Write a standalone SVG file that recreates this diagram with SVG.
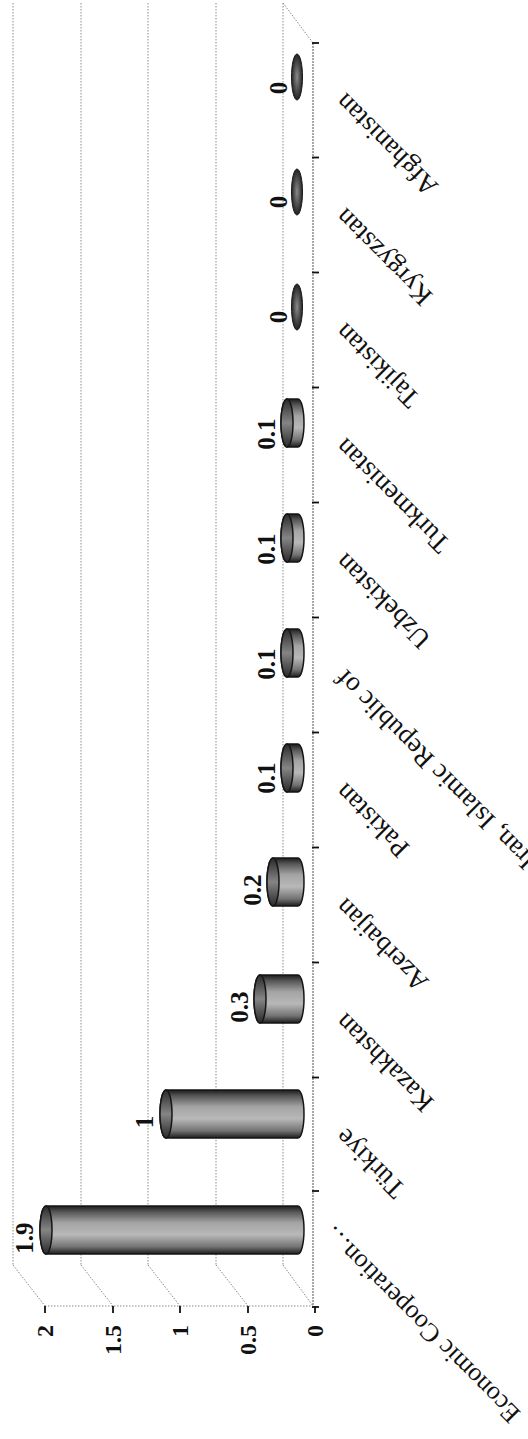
<svg xmlns="http://www.w3.org/2000/svg" width="528" height="1439" viewBox="0 0 528 1439">
<style>
.grid{stroke:#8a8a8a;stroke-width:1;stroke-dasharray:1.5 1.5;fill:none}
.axis{stroke:#7a7a7a;stroke-width:1.3;stroke-dasharray:2 1;fill:none}
.tick{stroke:#111;stroke-width:1.8}
.cat{font-family:"Liberation Serif","Times New Roman",serif;font-size:27px;fill:#111}
.val{font-family:"Liberation Serif","Times New Roman",serif;font-weight:bold;font-size:25px;fill:#111}
.ax{font-family:"Liberation Serif","Times New Roman",serif;font-weight:bold;font-size:24px;fill:#111}
.body{fill:url(#cyl);stroke:#151515;stroke-width:1.5}
.cap{fill:url(#capg);stroke:#151515;stroke-width:1.5}
.disc{fill:url(#discg);stroke:#1a1a1a;stroke-width:1}
</style>
<defs>
<linearGradient id="cyl" x1="0" y1="0" x2="0" y2="1">
<stop offset="0" stop-color="#1c1c1c"/>
<stop offset="0.12" stop-color="#555"/>
<stop offset="0.35" stop-color="#a4a4a4"/>
<stop offset="0.6" stop-color="#b8b8b8"/>
<stop offset="0.85" stop-color="#737373"/>
<stop offset="1" stop-color="#1c1c1c"/>
</linearGradient>
<linearGradient id="capg" x1="0" y1="0" x2="0" y2="1">
<stop offset="0" stop-color="#2a2a2a"/>
<stop offset="0.5" stop-color="#858585"/>
<stop offset="1" stop-color="#2a2a2a"/>
</linearGradient>
<radialGradient id="discg" cx="0.5" cy="0.5" r="0.5">
<stop offset="0" stop-color="#8a8a8a"/>
<stop offset="1" stop-color="#222"/>
</radialGradient>
</defs>

<g id="connectors">
<line class="grid" x1="13" y1="3" x2="13" y2="1265"/>
<line class="grid" x1="81" y1="3" x2="81" y2="1265"/>
<line class="grid" x1="148" y1="3" x2="148" y2="1265"/>
<line class="grid" x1="216" y1="3" x2="216" y2="1265"/>
<line class="grid" x1="283" y1="3" x2="283" y2="1265"/>
<line class="grid" x1="13" y1="1265" x2="45" y2="1306"/>
<line class="grid" x1="81" y1="1265" x2="113" y2="1306"/>
<line class="grid" x1="148" y1="1265" x2="180" y2="1306"/>
<line class="grid" x1="216" y1="1265" x2="248" y2="1306"/>
<line class="grid" x1="283" y1="1265" x2="313" y2="1306"/>
<line class="grid" x1="283" y1="3" x2="313" y2="43"/>
<line class="grid" x1="45" y1="1306" x2="313" y2="1306"/>
<line class="axis" x1="313" y1="43" x2="313" y2="1307"/>
<line class="tick" x1="45" y1="1306" x2="45" y2="1313"/>
<line class="tick" x1="113" y1="1306" x2="113" y2="1313"/>
<line class="tick" x1="180" y1="1306" x2="180" y2="1313"/>
<line class="tick" x1="248" y1="1306" x2="248" y2="1313"/>
<line class="tick" x1="315" y1="1306" x2="315" y2="1313"/>
<line class="tick" x1="312" y1="43" x2="319" y2="43"/>
<line class="tick" x1="312" y1="157.5" x2="319" y2="157.5"/>
<line class="tick" x1="312" y1="272.5" x2="319" y2="272.5"/>
<line class="tick" x1="312" y1="387.5" x2="319" y2="387.5"/>
<line class="tick" x1="312" y1="502.5" x2="319" y2="502.5"/>
<line class="tick" x1="312" y1="617.5" x2="319" y2="617.5"/>
<line class="tick" x1="312" y1="732.5" x2="319" y2="732.5"/>
<line class="tick" x1="312" y1="847.5" x2="319" y2="847.5"/>
<line class="tick" x1="312" y1="962.5" x2="319" y2="962.5"/>
<line class="tick" x1="312" y1="1077.5" x2="319" y2="1077.5"/>
<line class="tick" x1="312" y1="1191" x2="319" y2="1191"/>
<line class="tick" x1="312" y1="1307" x2="319" y2="1307"/>
</g>

<g id="value-axis-labels">
<text class="ax" text-anchor="end" transform="translate(53,1325) rotate(-90)">2</text>
<text class="ax" text-anchor="end" transform="translate(121,1325) rotate(-90)">1.5</text>
<text class="ax" text-anchor="end" transform="translate(188,1325) rotate(-90)">1</text>
<text class="ax" text-anchor="end" transform="translate(256,1325) rotate(-90)">0.5</text>
<text class="ax" text-anchor="end" transform="translate(323,1325) rotate(-90)">0</text>
</g>

<g id="bar-eco">
<path class="body" d="M46,1206 H298 A6,24 0 0 1 298,1254 H46 A6,24 0 0 1 46,1206 Z"/>
<ellipse class="cap" cx="46" cy="1230" rx="6" ry="24"/>
<text class="val" text-anchor="middle" transform="translate(33,1238) rotate(-90)">1.9</text>
<text class="cat" text-anchor="end" style="font-size:26px" transform="translate(333,1224) rotate(-135)">Economic Cooperation…</text>
</g>

<g id="bar-turkiye">
<path class="body" d="M166,1090 H298 A6,24 0 0 1 298,1138 H166 A6,24 0 0 1 166,1090 Z"/>
<ellipse class="cap" cx="166" cy="1114" rx="6" ry="24"/>
<text class="val" text-anchor="middle" transform="translate(153,1122) rotate(-90)">1</text>
<text class="cat" text-anchor="end" transform="translate(346,1127) rotate(-135)">Türkiye</text>
</g>

<g id="bar-kazakhstan">
<path class="body" d="M260,975 H298 A6,24 0 0 1 298,1023 H260 A6,24 0 0 1 260,975 Z"/>
<ellipse class="cap" cx="260" cy="999" rx="6" ry="24"/>
<text class="val" text-anchor="middle" transform="translate(248,1007) rotate(-90)">0.3</text>
<text class="cat" text-anchor="end" transform="translate(346,1012) rotate(-135)">Kazakhstan</text>
</g>

<g id="bar-azerbaijan">
<path class="body" d="M273,858 H298 A6,24 0 0 1 298,906 H273 A6,24 0 0 1 273,858 Z"/>
<ellipse class="cap" cx="273" cy="882" rx="6" ry="24"/>
<text class="val" text-anchor="middle" transform="translate(261,890) rotate(-90)">0.2</text>
<text class="cat" text-anchor="end" transform="translate(346,897) rotate(-135)">Azerbaijan</text>
</g>

<g id="bar-pakistan">
<path class="body" d="M287,744 H298 A6,24 0 0 1 298,792 H287 A6,24 0 0 1 287,744 Z"/>
<ellipse class="cap" cx="287" cy="768" rx="6" ry="24"/>
<text class="val" text-anchor="middle" transform="translate(275,778) rotate(-90)">0.1</text>
<text class="cat" text-anchor="end" transform="translate(346,782) rotate(-135)">Pakistan</text>
</g>

<g id="bar-iran">
<path class="body" d="M287,629 H298 A6,24 0 0 1 298,677 H287 A6,24 0 0 1 287,629 Z"/>
<ellipse class="cap" cx="287" cy="653" rx="6" ry="24"/>
<text class="val" text-anchor="middle" transform="translate(275,664) rotate(-90)">0.1</text>
<text class="cat" text-anchor="end" transform="translate(346,668) rotate(-135)">Iran, Islamic Republic of</text>
</g>

<g id="bar-uzbekistan">
<path class="body" d="M287,514 H298 A6,24 0 0 1 298,562 H287 A6,24 0 0 1 287,514 Z"/>
<ellipse class="cap" cx="287" cy="538" rx="6" ry="24"/>
<text class="val" text-anchor="middle" transform="translate(275,549) rotate(-90)">0.1</text>
<text class="cat" text-anchor="end" transform="translate(346,552) rotate(-135)">Uzbekistan</text>
</g>

<g id="bar-turkmenistan">
<path class="body" d="M287,399 H298 A6,24 0 0 1 298,447 H287 A6,24 0 0 1 287,399 Z"/>
<ellipse class="cap" cx="287" cy="423" rx="6" ry="24"/>
<text class="val" text-anchor="middle" transform="translate(275,434) rotate(-90)">0.1</text>
<text class="cat" text-anchor="end" transform="translate(346,437) rotate(-135)">Turkmenistan</text>
</g>

<g id="bar-tajikistan">
<ellipse class="disc" cx="297" cy="307" rx="5.5" ry="23"/>
<text class="val" text-anchor="middle" transform="translate(287,317) rotate(-90)">0</text>
<text class="cat" text-anchor="end" transform="translate(346,322) rotate(-135)">Tajikistan</text>
</g>

<g id="bar-kyrgyzstan">
<ellipse class="disc" cx="297" cy="192" rx="5.5" ry="23"/>
<text class="val" text-anchor="middle" transform="translate(287,202) rotate(-90)">0</text>
<text class="cat" text-anchor="end" transform="translate(346,207) rotate(-135)">Kyrgyzstan</text>
</g>

<g id="bar-afghanistan">
<ellipse class="disc" cx="297" cy="77" rx="5.5" ry="23"/>
<text class="val" text-anchor="middle" transform="translate(287,88) rotate(-90)">0</text>
<text class="cat" text-anchor="end" transform="translate(346,92) rotate(-135)">Afghanistan</text>
</g>
</svg>
